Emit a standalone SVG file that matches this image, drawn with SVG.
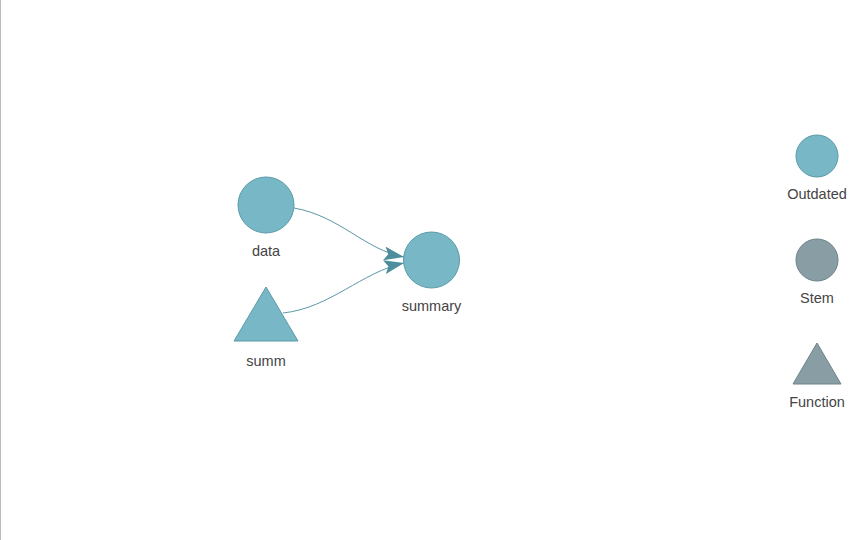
<svg xmlns="http://www.w3.org/2000/svg" width="860" height="540" viewBox="0 0 860 540">
<style>
.lbl{font-family:"Liberation Sans",Arial,sans-serif;font-size:14.5px;fill:#444;text-anchor:middle}
.out{fill:#78B7C5;stroke:#5A9AA8;stroke-width:1}
.stem{fill:#899DA4;stroke:#6E8289;stroke-width:1}
.edge{fill:none;stroke:#5A98A6;stroke-width:1}
</style>
<defs>
<marker id="arr" viewBox="0 0 20 14" refX="20" refY="7" markerWidth="20" markerHeight="14" markerUnits="userSpaceOnUse" orient="auto">
<path d="M0,0 L20,7 L0,14 L4,7 Z" fill="#4E8E9C"/>
</marker>
</defs>
<rect x="0" y="0" width="860" height="540" fill="#fff"/>
<line x1="0.5" y1="0" x2="0.5" y2="540" stroke="#bbb" stroke-width="1"/>
<g id="edges">
<path class="edge" d="M294,208 C340,216 365,250 404,257" marker-end="url(#arr)"/>
<path class="edge" d="M283,313 C330,308 362,272 404,263" marker-end="url(#arr)"/>
</g>
<g id="node-data">
<circle class="out" cx="266" cy="205" r="28"/>
<text class="lbl" x="266" y="256">data</text>
</g>
<g id="node-summ">
<polygon class="out" points="266,287 298,341 234,341"/>
<text class="lbl" x="266" y="366">summ</text>
</g>
<g id="node-summary">
<circle class="out" cx="431.5" cy="260" r="28"/>
<text class="lbl" x="431.5" y="311">summary</text>
</g>
<g id="legend-outdated">
<circle class="out" cx="817" cy="156" r="21"/>
<text class="lbl" x="817" y="199">Outdated</text>
</g>
<g id="legend-stem">
<circle class="stem" cx="817" cy="260" r="21"/>
<text class="lbl" x="817" y="303">Stem</text>
</g>
<g id="legend-function">
<polygon class="stem" points="817,343 841,384 793,384"/>
<text class="lbl" x="817" y="407">Function</text>
</g>
</svg>
